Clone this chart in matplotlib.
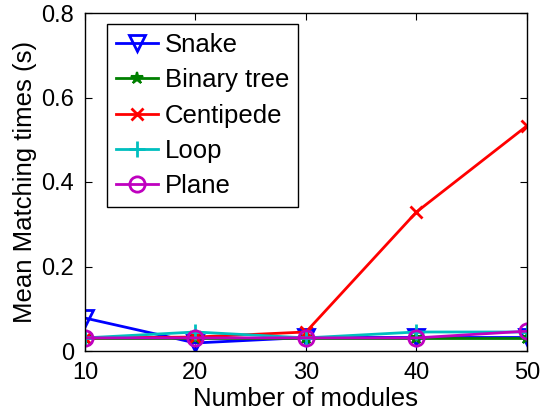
import matplotlib
matplotlib.use("Agg")
import matplotlib.pyplot as plt

plt.rcParams['font.family'] = ['Liberation Sans', 'DejaVu Sans']

modules = [10, 20, 30, 40, 50]
snake = [0.078, 0.019, 0.032, 0.032, 0.032]
binary_tree = [0.031, 0.031, 0.031, 0.031, 0.031]
centipede = [0.031, 0.033, 0.045, 0.329, 0.533]
loop = [0.031, 0.045, 0.031, 0.045, 0.045]
plane = [0.031, 0.031, 0.031, 0.031, 0.047]

fig = plt.figure(figsize=(5.42, 4.16), dpi=100)
ax = fig.add_axes([0.1568, 0.15625, 0.8155, 0.8125])

ax.plot(modules, snake, color='b', marker='v', mfc='none', mew=2, ms=12, lw=2, label='Snake')
ax.plot(modules, binary_tree, color='g', marker='*', mew=1.5, ms=9, lw=2, label='Binary tree')
ax.plot(modules, centipede, color='r', marker='x', mew=2, ms=8, lw=2, label='Centipede')
ax.plot(modules, loop, color='c', marker='+', mew=2, ms=12, lw=2, label='Loop')
ax.plot(modules, plane, color='m', marker='o', mfc='none', mew=2, ms=11, lw=2, label='Plane')

ax.set_xlim(10, 50)
ax.set_ylim(0, 0.8)
ax.set_xticks(modules)
ax.set_yticks([0, 0.2, 0.4, 0.6, 0.8])
ax.set_yticklabels(['0', '0.2', '0.4', '0.6', '0.8'])
ax.tick_params(direction='in', top=True, right=True, labelsize=17, length=5, pad=8)
for s in ax.spines.values():
    s.set_linewidth(1)

ax.set_xlabel('Number of modules', fontsize=18.5, labelpad=2)
ax.set_ylabel('Mean Matching times (s)', fontsize=18.5, labelpad=3)

leg = ax.legend(loc='upper left', bbox_to_anchor=(0.05, 0.967), borderaxespad=0,
                fontsize=18.5, fancybox=False, edgecolor='k', framealpha=1,
                borderpad=0.35, handlelength=1.65, handletextpad=0.25,
                labelspacing=0.44)
leg.get_frame().set_linewidth(1)

plt.savefig('out.png', dpi=100)
